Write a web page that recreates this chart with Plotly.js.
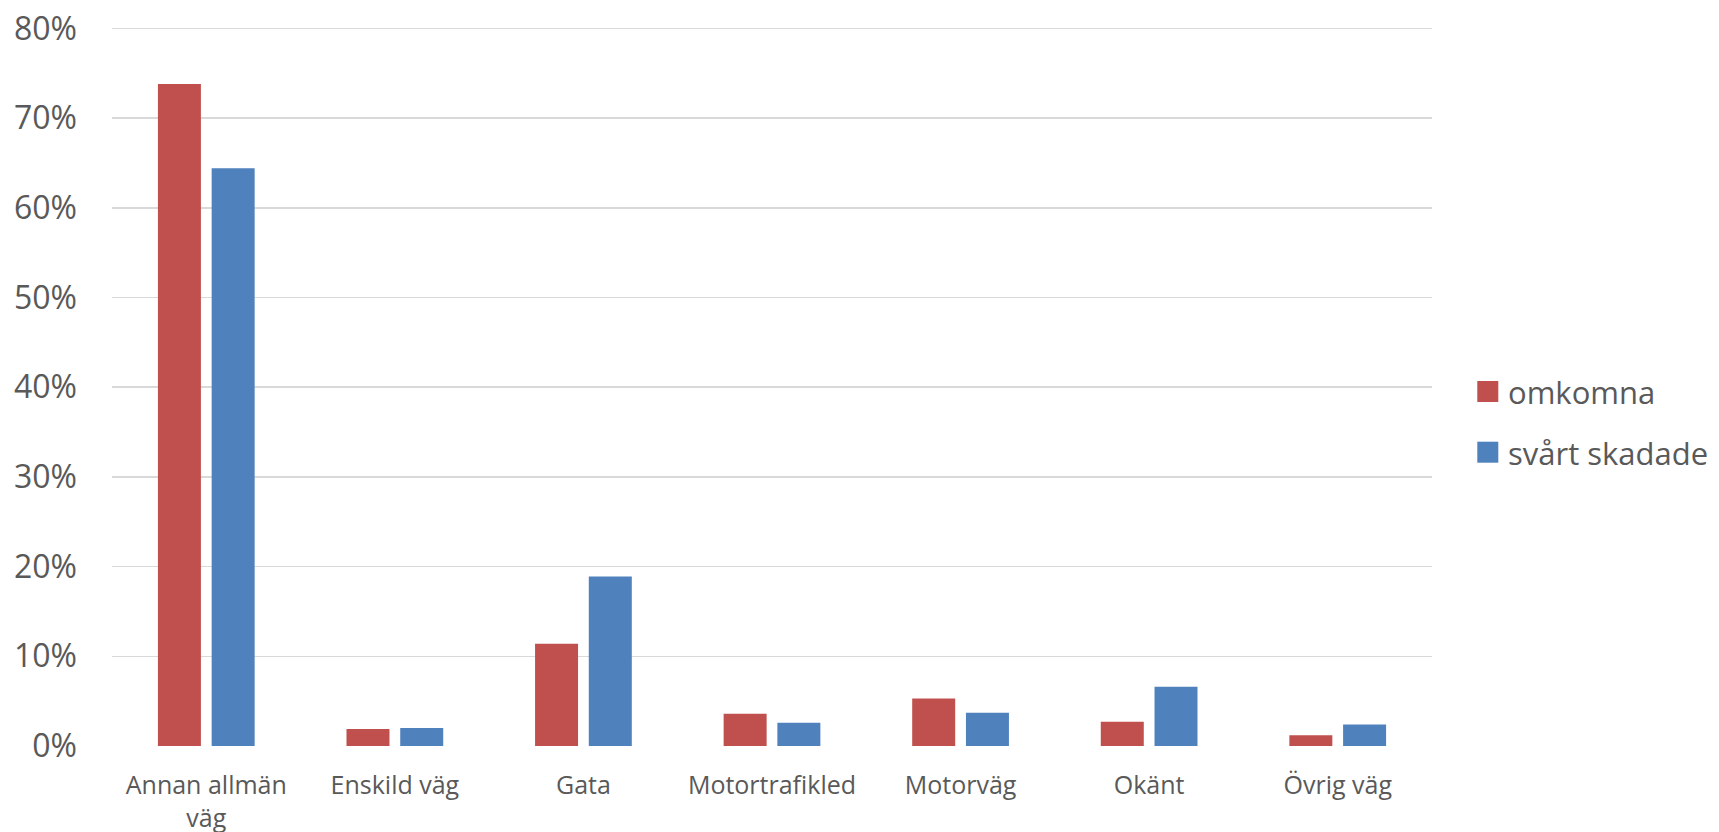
<!DOCTYPE html>
<html>
<head>
<meta charset="utf-8">
<script src="https://cdn.plot.ly/plotly-3.0.1.min.js"></script>
<style>html,body{margin:0;padding:0;background:#fff;}#chart{width:1719px;height:832px;}</style>
</head>
<body>
<div id="chart"></div>
<script>
const categories = ["Annan allmän<br>väg", "Enskild väg", "Gata", "Motortrafikled", "Motorväg", "Okänt", "Övrig väg"];
const seriesNames = ["omkomna", "svårt skadade"];
const omkomna = [0.738, 0.019, 0.114, 0.036, 0.053, 0.027, 0.012];
const svartSkadade = [0.644, 0.020, 0.189, 0.026, 0.037, 0.066, 0.024];
const yTickVals = [0, 0.1, 0.2, 0.3, 0.4, 0.5, 0.6, 0.7, 0.8];
const yTickText = ["0%", "10%", "20%", "30%", "40%", "50%", "60%", "70%", "80%"];

const W = 1719, H = 832;
const M = {l: 112, r: 287, t: 27, b: 86};
const FONT = "Open Sans, sans-serif";
const TXT = "#595959";
const COLORS = ["#C0504D", "#4F81BD"];

const traces = [
  {type: "bar", name: seriesNames[0], x: categories, y: omkomna, marker: {color: COLORS[0]}, hoverinfo: "y"},
  {type: "bar", name: seriesNames[1], x: categories, y: svartSkadade, marker: {color: COLORS[1]}, hoverinfo: "y"}
];

// legend drawn as shapes + annotations (Excel-style large square swatches)
const plotW = W - M.l - M.r, plotH = H - M.t - M.b;
const px2x = function (px) { return (px - M.l) / plotW; };
const px2y = function (py) { return (H - M.b - py) / plotH; };
const legendRowsY = [391.5, 452.2];
const shapes = [], annotations = [];
seriesNames.forEach(function (name, i) {
  const cy = legendRowsY[i];
  shapes.push({
    type: "rect", xref: "paper", yref: "paper", layer: "above",
    x0: px2x(1477.3), x1: px2x(1498.3), y0: px2y(cy + 10.5), y1: px2y(cy - 10.5),
    fillcolor: COLORS[i], line: {width: 0}
  });
  annotations.push({
    xref: "paper", yref: "paper", x: px2x(1506), y: px2y(cy + 1),
    xanchor: "left", yanchor: "middle", showarrow: false,
    text: name, font: {family: FONT, size: 31, color: TXT}
  });
});

const layout = {
  width: W, height: H,
  margin: M,
  paper_bgcolor: "#fff", plot_bgcolor: "#fff",
  font: {family: FONT, color: TXT},
  barmode: "group",
  bargap: 0.43,
  bargroupgap: 0.2,
  showlegend: false,
  xaxis: {
    type: "category",
    showgrid: false, zeroline: false, showline: false,
    ticks: "",
    tickfont: {family: FONT, size: 25, color: TXT},
    ticklabelstandoff: 22,
    fixedrange: true
  },
  yaxis: {
    range: [0, 0.8015],
    tickvals: yTickVals, ticktext: yTickText,
    showgrid: true, gridcolor: "#D9D9D9", gridwidth: 1.5,
    zeroline: false, showline: false, ticks: "",
    tickfont: {family: FONT, size: 32, color: TXT},
    ticklabelstandoff: 34,
    fixedrange: true
  },
  shapes: shapes,
  annotations: annotations
};

Plotly.newPlot("chart", traces, layout, {displayModeBar: false, staticPlot: true});
</script>
</body>
</html>
